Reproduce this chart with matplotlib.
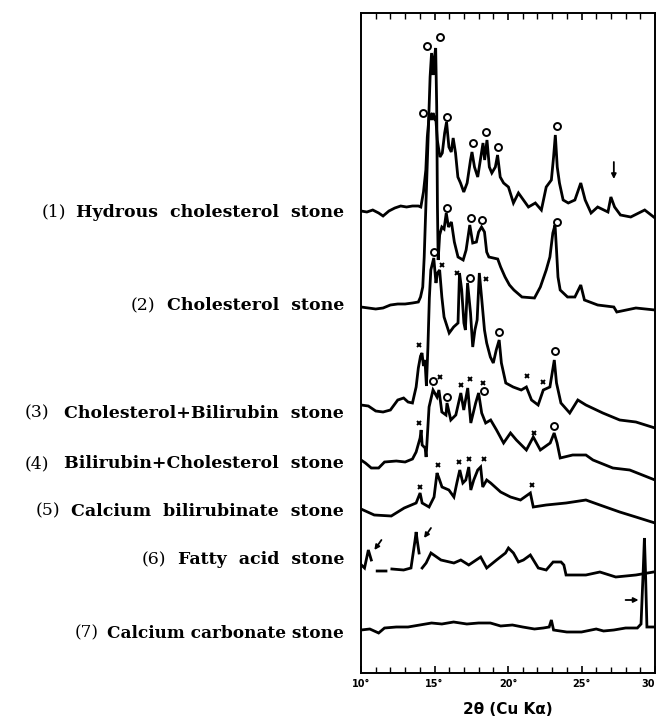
import numpy as np
import matplotlib
matplotlib.use("Agg")
import matplotlib.pyplot as plt

# X-ray diffraction patterns of gallstones, 2theta (Cu K alpha), intensity
labels_num = ['(1)', '(2)', '(3)', '(4)', '(5)', '(6)', '(7)']
labels_name = ['Hydrous  cholesterol  stone',
               'Cholesterol  stone',
               'Cholesterol+Bilirubin  stone',
               'Bilirubin+Cholesterol  stone',
               'Calcium  bilirubinate  stone',
               'Fatty  acid  stone',
               'Calcium carbonate stone']

hydrous_2t = [10.0, 10.4, 10.8, 11.2, 11.5, 11.9, 12.3, 12.7, 13.1, 13.5, 13.9, 14.07, 14.25,
              14.41, 14.51, 14.63, 14.74, 14.82, 14.9, 15.0, 15.08, 15.19, 15.37, 15.53, 15.69,
              15.82, 15.98, 16.14, 16.27, 16.43, 16.59, 16.77, 16.99, 17.22, 17.45, 17.55, 17.72,
              17.94, 18.12, 18.3, 18.41, 18.57, 18.73, 18.9, 19.14, 19.29, 19.47, 19.7, 20.03,
              20.37, 20.71, 21.05, 21.39, 21.86, 22.27, 22.6, 22.95, 23.1, 23.22, 23.35, 23.5,
              23.75, 24.1, 24.55, 24.95, 25.25, 25.65, 26.1, 26.8, 27.0, 27.25, 27.65, 28.35,
              29.3, 30.0]
hydrous_i = [1, 0, 2, -1, -4, 1, 4, 6, 5, 6, 6, 5, 20,
             42, 75, 95, 97, 92, 99, 94, 96, 72, 55, 59, 79,
             90, 65, 60, 74, 59, 35, 29, 20, 29, 52, 60, 45,
             35, 52, 69, 52, 72, 45, 39, 45, 57, 35, 29, 25,
             9, 19, 12, 5, 9, 2, 25, 32, 55, 77, 45, 29,
             12, 9, 12, 29, 12, -1, 5, 0, 15, 5, -3, -5,
             2, -6]

chol_2t = [10.0, 10.5, 11.0, 11.5, 12.0, 12.5, 13.0, 13.5, 13.9, 14.05, 14.2, 14.3, 14.4,
           14.5, 14.6, 14.7, 14.8, 14.9, 15.0, 15.08, 15.15, 15.2, 15.25, 15.35, 15.5, 15.65,
           15.8, 15.95, 16.15, 16.35, 16.6, 16.95, 17.15, 17.4, 17.6, 17.85, 18.0, 18.2, 18.4,
           18.55, 18.7, 19.0, 19.3, 19.5, 19.8, 20.1, 20.4, 20.95, 21.8, 22.2, 22.6, 22.85,
           23.05, 23.2, 23.3, 23.4, 23.55, 24.05, 24.55, 24.95, 25.2, 26.1, 27.2, 27.4, 28.7,
           30.0]
chol_i = [0, -1, -2, -1, 2, 3, 3, 4, 5, 10, 20, 50, 95,
          140, 185, 230, 254, 232, 250, 259, 200, 100, 47, 72, 80, 78,
          94, 80, 85, 65, 50, 47, 57, 82, 64, 65, 75, 80, 75,
          55, 50, 49, 48, 40, 30, 22, 17, 10, 9, 20, 37, 50,
          74, 82, 57, 30, 17, 10, 10, 22, 7, 2, 0, -5, -1,
          -3]

cb_2t = [10.0, 10.5, 11.0, 11.5, 12.0, 12.5, 12.9, 13.2, 13.5, 13.75, 13.9, 14.05, 14.15,
         14.25, 14.35, 14.45, 14.55, 14.65, 14.75, 14.95, 15.1, 15.2, 15.35, 15.5, 15.65,
         16.0, 16.3, 16.6, 16.7, 16.85, 17.0, 17.1, 17.25, 17.45, 17.6, 17.75, 17.9, 18.05,
         18.2, 18.4, 18.55, 18.8, 19.0, 19.2, 19.4, 19.55, 19.85, 20.35, 20.9, 21.25, 21.6,
         22.05, 22.4, 22.85, 23.15, 23.3, 23.6, 24.2, 24.75, 25.3, 26.45, 27.6, 28.7, 30.0]
cb_i = [3, 2, -3, -4, -2, 8, 10, 6, 5, 21, 40, 52, 55,
        42, 48, 22, 60, 110, 138, 150, 125, 135, 138, 111, 91,
        75, 81, 85, 135, 118, 85, 78, 125, 95, 61, 78, 88, 135,
        111, 78, 65, 51, 45, 58, 68, 45, 25, 21, 18, 21, 8,
        3, 18, 21, 48, 25, 5, -5, 8, 3, -5, -12, -14, -20]

bc_2t = [10.0, 10.3, 10.7, 11.2, 11.6, 12.4, 13.0, 13.5, 13.75, 14.02, 14.09, 14.16, 14.36,
         14.43, 14.63, 14.9, 15.17, 15.3, 15.5, 15.78, 15.85, 16.11, 16.45, 16.79, 16.99,
         17.26, 17.47, 17.8, 18.0, 18.21, 18.48, 18.82, 19.22, 19.7, 20.17, 20.57, 21.25,
         21.72, 22.2, 22.87, 23.14, 23.34, 23.55, 24.4, 25.3, 25.78, 27.13, 28.28, 30.0]
bc_i = [2, -1, -6, -6, 0, 1, 0, 3, 10, 24, 32, 17, 14,
        5, 55, 72, 65, 72, 50, 47, 59, 42, 47, 69, 52,
        74, 39, 59, 69, 49, 39, 42, 32, 19, 29, 22, 12,
        25, 12, 19, 29, 19, 4, 7, 7, 2, -6, -8, -18]

cabil_2t = [10.0, 10.9, 12.06, 12.94, 13.75, 14.02, 14.16, 14.63, 14.97, 15.17, 15.3, 15.51,
            15.98, 16.32, 16.52, 16.72, 16.93, 17.13, 17.33, 17.47, 17.67, 17.94, 18.14, 18.28,
            18.55, 18.82, 19.5, 20.17, 20.85, 21.52, 21.72, 22.6, 23.95, 25.3, 26.25, 27.6,
            28.7, 30.0]
cabil_i = [2, -4, -5, 3, 8, 18, 8, 4, 14, 38, 33, 24,
           21, 14, 28, 41, 28, 31, 44, 21, 31, 41, 44, 24,
           31, 28, 19, 14, 11, 18, 4, 6, 8, 11, 6, -1,
           -6, -12]

fatty_2t = [10.03, 10.24, 10.5, 10.7, 10.85, 11.1, 11.7, 11.95, 12.1, 12.9, 13.4, 13.48, 13.68,
            13.75, 13.82, 13.95, 14.05, 14.16, 14.43, 14.76, 15.44, 16.32, 16.79, 17.33, 18.14,
            18.55, 19.22, 19.83, 20.03, 20.37, 20.71, 21.05, 21.52, 22.06, 22.6, 23.07, 23.61,
            23.8, 23.95, 25.3, 26.25, 27.33, 28.7, 29.9]
fatty_i = [5, 2, 20, 10, np.nan, -1, -1, np.nan, 1, 0, 2, 10, 30,
           38, 30, 17, np.nan, 2, 7, 17, 10, 7, 10, 5, 13,
           2, 10, 17, 22, 17, 8, 10, 15, 2, 0, 8, 8,
           5, -5, -5, -2, -7, -5, -2]

caco3_2t = [10.0, 10.6, 11.2, 11.6, 12.4, 13.2, 14.0, 14.8, 15.5, 16.3, 17.2, 18.0, 18.8,
            19.5, 20.3, 21.0, 21.8, 22.4, 22.8, 22.95, 23.1, 24.0, 25.0, 26.0, 26.5, 27.2,
            28.0, 28.8, 29.05, 29.2, 29.28, 29.35, 29.45, 30.0]
caco3_i = [0, 1, -3, 2, 3, 3, 5, 7, 6, 8, 6, 7, 7,
           4, 5, 3, 1, 2, 3, 10, 0, -2, -2, 1, -1, 0,
           2, 2, 6, 60, 92, 60, 3, 3]

# peak marks: (pattern, 2theta, height above pattern baseline)
circle_marks = [(0, 14.24, 99), (0, 15.86, 95), (0, 17.62, 69), (0, 18.5, 80), (0, 19.31, 65),
                (0, 23.3, 86),
                (1, 14.49, 261), (1, 15.37, 270), (1, 15.82, 99), (1, 17.45, 89), (1, 18.26, 87),
                (1, 23.3, 85),
                (2, 14.97, 156), (2, 17.4, 130), (2, 19.4, 76), (2, 23.23, 57),
                (3, 14.9, 81), (3, 15.86, 65), (3, 18.34, 71), (3, 23.16, 36)]
cross_marks = [(2, 13.95, 63), (2, 15.53, 143), (2, 16.54, 135), (2, 18.53, 129), (2, 21.27, 32),
               (2, 22.35, 26),
               (3, 13.95, 39), (3, 15.37, 85), (3, 16.77, 77), (3, 17.4, 83), (3, 18.28, 79),
               (3, 21.79, 29),
               (4, 14.02, 24), (4, 15.24, 46), (4, 16.68, 49), (4, 17.38, 52), (4, 18.34, 52),
               (4, 21.61, 26)]

patterns = [(hydrous_2t, hydrous_i), (chol_2t, chol_i), (cb_2t, cb_i), (bc_2t, bc_i),
            (cabil_2t, cabil_i), (fatty_2t, fatty_i), (caco3_2t, caco3_i)]

# vertical stacking of the patterns (baselines) and label heights, in figure pixels from top
W, H = 659, 722
ax_bottom_px, ax_top_px = 673, 13
offsets = [461, 366, 265, 211, 162, 103, 43]
label_y_px = [212, 306, 413, 464, 511, 560, 633]
label_gap = [7, 8, 11, 11, 8, 8, 6]
label_size = [12.5, 12.5, 12.5, 12.5, 12.5, 12.5, 12.2]

fig = plt.figure(figsize=(W / 100, H / 100), dpi=100)
ax = fig.add_axes([361 / W, 1 - ax_bottom_px / H, (655 - 361) / W, (ax_bottom_px - ax_top_px) / H])

for (tt, ii), off in zip(patterns, offsets):
    ax.plot(tt, np.array(ii, dtype=float) + off, color='black', lw=2.0, solid_joinstyle='miter')

for k, t, h in circle_marks:
    ax.plot(t, offsets[k] + h, 'o', ms=5, mfc='white', mec='black', mew=1.4)
for k, t, h in cross_marks:
    ax.plot(t, offsets[k] + h, 'x', ms=3.5, mec='black', mew=1.4)

# arrows: (pattern, 2theta tail, h tail, 2theta head, h head)
arrows = [(0, 27.2, 50, 27.2, 33), (5, 11.39, 30, 10.91, 20), (5, 14.76, 42, 14.29, 32),
          (6, 28.0, 30, 28.88, 30)]
for k, t0, h0, t1, h1 in arrows:
    ax.annotate('', xy=(t1, offsets[k] + h1), xytext=(t0, offsets[k] + h0),
                arrowprops=dict(arrowstyle='-|>', color='black', lw=1.3, mutation_scale=7,
                                shrinkA=0, shrinkB=0))

ax.set_xlim(10, 30)
ax.set_ylim(0, ax_bottom_px - ax_top_px)
ax.set_yticks([])
ax.set_xticks([10, 15, 20, 25, 30])
ax.set_xticklabels(['10°', '15°', '20°', '25°', '30'], fontsize=7, fontweight='bold')
ax.get_xticklabels()[-1].set_horizontalalignment('right')
ax.set_xticks(np.arange(10, 31, 1), minor=True)
ax.tick_params(axis='x', which='both', direction='in', top=True, pad=4)
ax.tick_params(axis='x', which='major', length=5, width=1.2)
ax.tick_params(axis='x', which='minor', length=4, width=1.0)
for s in ax.spines.values():
    s.set_linewidth(1.4)
ax.set_xlabel('2θ (Cu Kα)', fontsize=11, fontweight='bold', labelpad=10)

# stone labels on the left
for num, name, ypx, gap, fs in zip(labels_num, labels_name, label_y_px, label_gap, label_size):
    t = fig.text(344 / W, 1 - ypx / H, name, ha='right', va='center',
                 family='DejaVu Serif', fontsize=fs, fontweight='bold')
    ax.annotate(num, xy=(0, 0.5), xycoords=t, xytext=(-gap, 0), textcoords='offset points',
                ha='right', va='center', family='DejaVu Serif', fontsize=fs)

fig.savefig('out.png', dpi=100)
